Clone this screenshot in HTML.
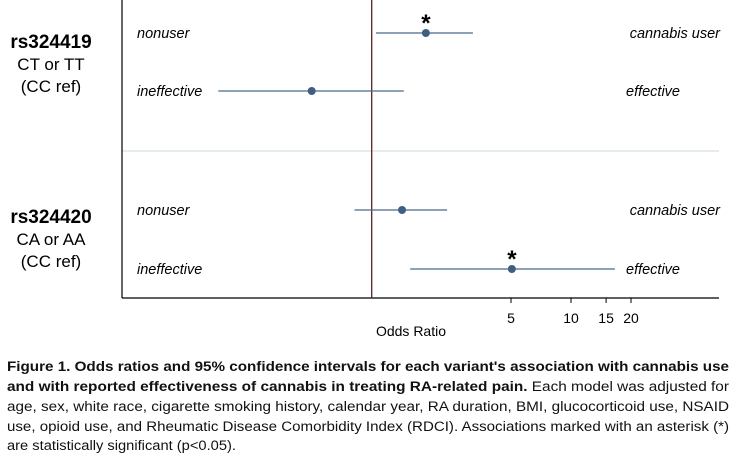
<!DOCTYPE html>
<html><head><meta charset="utf-8"><style>
html,body{margin:0;padding:0;background:#fff;}
svg{display:block;font-family:"Liberation Sans",Arial,sans-serif;}
</style></head><body>
<svg id="chart" width="736" height="459" viewBox="0 0 736 459">
  <g id="left-labels">
    <text x="51" y="48" font-size="19" font-weight="bold" text-anchor="middle">rs324419</text>
    <text x="51" y="70" font-size="17" text-anchor="middle">CT or TT</text>
    <text x="51" y="92" font-size="17" text-anchor="middle">(CC ref)</text>
    <text x="51" y="223" font-size="19" font-weight="bold" text-anchor="middle">rs324420</text>
    <text x="51" y="245" font-size="17" text-anchor="middle">CA or AA</text>
    <text x="51" y="267" font-size="17" text-anchor="middle">(CC ref)</text>
  </g>
  <line x1="122" y1="151" x2="719" y2="151" stroke="#c9d9dc" stroke-width="1"/>
  <line x1="122" y1="0" x2="122" y2="298" stroke="#000" stroke-width="1.2"/>
  <line x1="122" y1="298" x2="719" y2="298" stroke="#000" stroke-width="1.2"/>
  <g id="marks"></g>
  <g id="xticks"></g>
  <text x="411" y="336" font-size="14" text-anchor="middle">Odds Ratio</text>
  <g font-size="13.5" fill="#111">
    <text x="7" y="371" textLength="722" lengthAdjust="spacingAndGlyphs" font-weight="bold">Figure 1. Odds ratios and 95% confidence intervals for each variant's association with cannabis use</text>
    <text x="7" y="391" textLength="722" lengthAdjust="spacingAndGlyphs"><tspan font-weight="bold">and with reported effectiveness of cannabis in treating RA-related pain.</tspan> Each model was adjusted for</text>
    <text x="7" y="411" textLength="722" lengthAdjust="spacingAndGlyphs">age, sex, white race, cigarette smoking history, calendar year, RA duration, BMI, glucocorticoid use, NSAID</text>
    <text x="7" y="431" textLength="722" lengthAdjust="spacingAndGlyphs">use, opioid use, and Rheumatic Disease Comorbidity Index (RDCI). Associations marked with an asterisk (*)</text>
    <text x="7" y="450" textLength="229" lengthAdjust="spacingAndGlyphs">are statistically significant (p&lt;0.05).</text>
  </g>
</svg>
<script>
const rowNames = ["rs324419-use", "rs324419-effect", "rs324420-use", "rs324420-effect"];
const rowLow = ["nonuser", "ineffective", "nonuser", "ineffective"];
const rowHigh = ["cannabis user", "effective", "cannabis user", "effective"];
const oddsRatio = [1.87, 0.50, 1.42, 5.05];
const ciLower = [1.05, 0.17, 0.82, 1.56];
const ciUpper = [3.22, 1.45, 2.39, 16.6];
const significant = [true, false, false, true];
const tickValues = [5, 10, 15, 20];
const tickLabels = ["5", "10", "15", "20"];

const NS = "http://www.w3.org/2000/svg";
const rowY = [33, 91, 210, 269];
function xScale(v){ return 371.7 + 199.3 * Math.log10(v); }
function mk(tag, attrs, parent){ const e=document.createElementNS(NS,tag); for(const k in attrs) e.setAttribute(k,attrs[k]); parent.appendChild(e); return e; }

const marks = document.getElementById("marks");
const ref = mk("line",{x1:xScale(1),y1:0,x2:xScale(1),y2:298,stroke:"#5a1f1f","stroke-width":1.3},marks);



rowNames.forEach((name,i)=>{
  const y = rowY[i];
  const l1 = mk("text",{x:137,y:y+5,"font-size":14.5,"font-style":"italic"},marks);
  l1.textContent = rowLow[i];
  
  
  const l2 = mk("text",{x:i%2===0?720:680,y:y+5,"font-size":14.5,"font-style":"italic","text-anchor":"end"},marks);
  l2.textContent = rowHigh[i];
  
  
  const ci = mk("line",{x1:xScale(ciLower[i]),y1:y,x2:xScale(ciUpper[i]),y2:y,stroke:"#4a6a8a","stroke-width":1.2},marks);
  
  
  const pt = mk("circle",{cx:xScale(oddsRatio[i]),cy:y,r:4,fill:"#3f5f82"},marks);
  
  
  if(significant[i]){
    const s = mk("text",{x:xScale(oddsRatio[i]),y:y-2,"font-size":24,"font-weight":"bold","text-anchor":"middle"},marks);
    s.textContent = "*";
    
    
  }
});

const xt = document.getElementById("xticks");
tickValues.forEach((v,i)=>{
  const t = mk("line",{x1:xScale(v),y1:298,x2:xScale(v),y2:303,stroke:"#000","stroke-width":1},xt);
  
  
  const lb = mk("text",{x:xScale(v),y:323,"font-size":14,"text-anchor":"middle"},xt);
  lb.textContent = tickLabels[i];
  
  
});
</script>
</body></html>
